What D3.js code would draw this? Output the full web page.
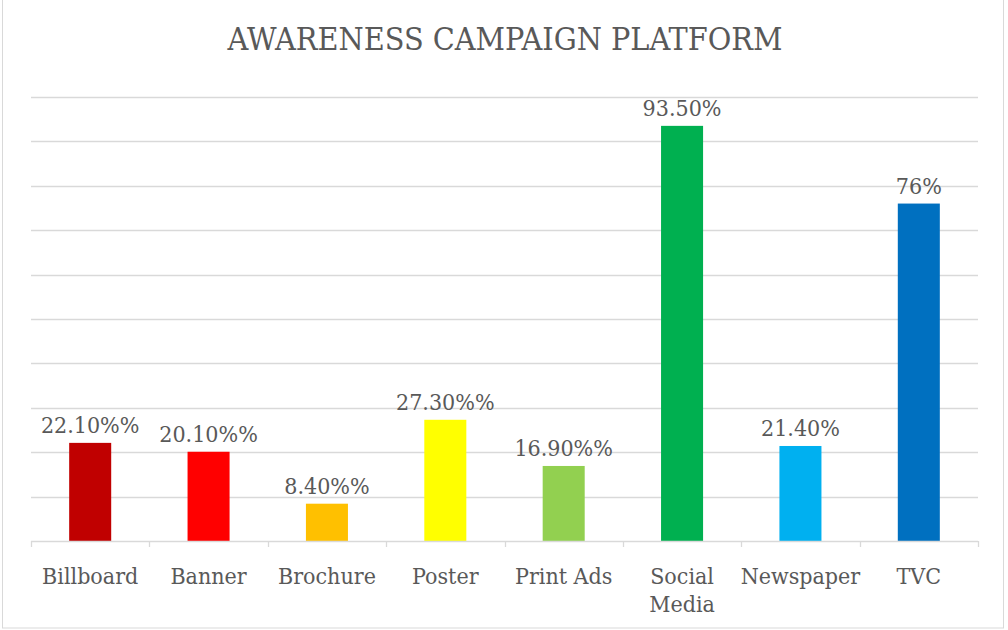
<!DOCTYPE html>
<html>
<head>
<meta charset="utf-8">
<script src="https://cdn.jsdelivr.net/npm/d3@7"></script>
<style>
  html, body { margin: 0; padding: 0; background: #fff; }
  svg { display: block; }
  text { font-family: "DejaVu Serif", "Liberation Serif", serif; font-stretch: condensed; fill: #595959; }
</style>
</head>
<body>
<svg id="chart" width="1008" height="630"></svg>
<script>
// Campaign platforms and their awareness share (%)
const categories = ["Billboard", "Banner", "Brochure", "Poster", "Print Ads", "Social Media", "Newspaper", "TVC"];
const values = [22.1, 20.1, 8.4, 27.3, 16.9, 93.5, 21.4, 76];
const valueLabels = ["22.10%%", "20.10%%", "8.40%%", "27.30%%", "16.90%%", "93.50%", "21.40%", "76%"];
const colors = ["#C00000", "#FF0000", "#FFC000", "#FFFF00", "#92D050", "#00B050", "#00B0F0", "#0070C0"];
const gridTicks = [0, 10, 20, 30, 40, 50, 60, 70, 80, 90, 100];
const title = "AWARENESS CAMPAIGN PLATFORM";

const svg = d3.select("#chart");
const plot = { left: 31, right: 978, top: 97, bottom: 541 };

// outer chart frame
svg.append("rect")
  .attr("x", 2.5).attr("y", -2)
  .attr("width", 1001).attr("height", 630)
  .attr("fill", "none").attr("stroke", "#d9d9d9").attr("stroke-width", 1);

svg.append("text")
  .attr("x", 505).attr("y", 50)
  .attr("text-anchor", "middle")
  .style("font-size", "32px")
  .text(title);

const x = d3.scaleBand()
  .domain(categories)
  .range([plot.left, plot.right])
  .paddingInner(0.645)
  .paddingOuter(0.3225);

const bandAll = d3.scaleBand().domain(categories).range([plot.left, plot.right]);

const y = d3.scaleLinear().domain([0, 100]).range([plot.bottom, plot.top]);

// horizontal gridlines
svg.append("g")
  .selectAll("line")
  .data(gridTicks.filter(d => d > 0))
  .join("line")
  .attr("x1", plot.left).attr("x2", plot.right)
  .attr("y1", d => Math.round(y(d)) + 0.5)
  .attr("y2", d => Math.round(y(d)) + 0.5)
  .attr("stroke", "#d9d9d9").attr("stroke-width", 1.3);

// bars
svg.append("g")
  .selectAll("rect")
  .data(values)
  .join("rect")
  .attr("x", (d, i) => x(categories[i]))
  .attr("width", x.bandwidth())
  .attr("y", d => y(d))
  .attr("height", d => y(0) - y(d))
  .attr("fill", (d, i) => colors[i]);

// category axis with tick marks at band boundaries
const axisG = svg.append("g");
axisG.append("line")
  .attr("x1", plot.left).attr("x2", plot.right)
  .attr("y1", plot.bottom + 0.5).attr("y2", plot.bottom + 0.5)
  .attr("stroke", "#d9d9d9").attr("stroke-width", 1.3);
const boundaries = categories.map(c => bandAll(c)).concat([plot.right]);
axisG.selectAll("line.tick")
  .data(boundaries)
  .join("line")
  .attr("class", "tick")
  .attr("x1", d => Math.round(d) + 0.5).attr("x2", d => Math.round(d) + 0.5)
  .attr("y1", plot.bottom).attr("y2", plot.bottom + 6)
  .attr("stroke", "#d9d9d9").attr("stroke-width", 1.3);

// category labels (wrapping two-word names that are long)
axisG.selectAll("text.cat")
  .data(categories)
  .join("text")
  .attr("class", "cat")
  .attr("text-anchor", "middle")
  .style("font-size", "23px")
  .each(function(d) {
    const t = d3.select(this);
    const cx = bandAll(d) + bandAll.bandwidth() / 2;
    const lines = d === "Social Media" ? ["Social", "Media"] : [d];
    lines.forEach((ln, k) => {
      t.append("tspan").attr("x", cx).attr("y", 584 + k * 28).text(ln);
    });
  });

// value labels above bars
svg.append("g")
  .selectAll("text")
  .data(values)
  .join("text")
  .attr("x", (d, i) => x(categories[i]) + x.bandwidth() / 2)
  .attr("y", d => y(d) - 10)
  .attr("text-anchor", "middle")
  .style("font-size", "23px")
  .text((d, i) => valueLabels[i]);
</script>
</body>
</html>
